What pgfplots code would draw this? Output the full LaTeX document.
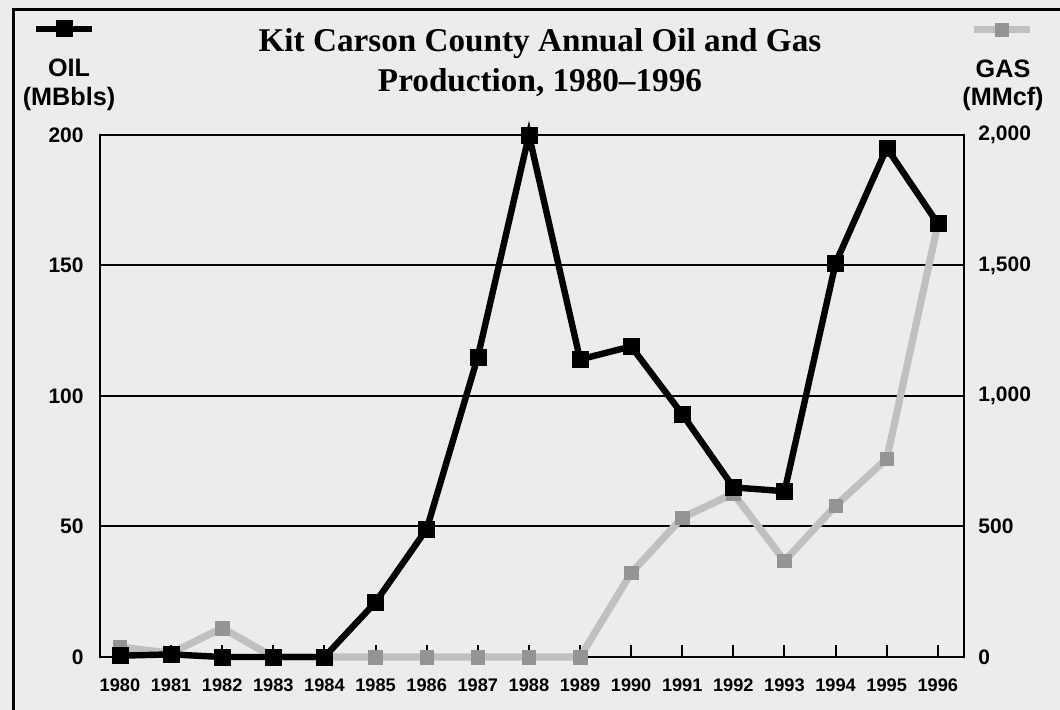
\documentclass[border=0pt]{standalone}
\usepackage{pgfplots}
\pgfplotsset{compat=1.18}
\usepackage{fontspec}
\setmainfont{Liberation Sans}
\newfontfamily\titlefont{Liberation Serif}
\definecolor{bg}{RGB}{236,236,236}
\definecolor{gasline}{RGB}{192,192,192}
\definecolor{gasmark}{RGB}{148,148,148}
\pgfplotsset{
  myaxis/.style={at={(50pt,-328.5pt)}, anchor=south west, scale only axis,
    width=432pt, height=261pt, xmin=1979.61, xmax=1996.51, clip=false,
    /pgf/number format/assume math mode=true},
  mylegend/.style={legend style={at={#1}, anchor=center, draw=none, fill=none,
    inner sep=0pt, nodes={inner sep=0pt}, column sep=0pt},
    legend image code/.code={\draw[mark repeat=2,mark phase=2,##1]
      plot coordinates {(0pt,0pt) (14pt,0pt) (28pt,0pt)};}}
}
\begin{document}
\begin{tikzpicture}
\path[use as bounding box] (0,0) rectangle (530pt,-355pt);
\fill[bg] (0,0) rectangle (530pt,-355pt);
\begin{scope}
\clip (0,0) rectangle (530pt,-355pt);
\draw[line width=1.5pt] (6.5pt,-5pt) rectangle (540pt,-365pt);
\end{scope}

% back axis: frame, grid, ticks, oil labels
\begin{axis}[myaxis, ymin=0, ymax=200, ytick={0,50,...,200},
  xtick={1980,...,1996}, ymajorgrids, grid style={black, line width=1pt},
  axis line style={line width=1pt},
  ytick style={draw=none}, xtick style={black, line width=1pt},
  tick align=inside, major tick length=6pt, xtick pos=bottom, ytick pos=left,
  /pgf/number format/1000 sep={},
  xticklabel style={font=\bfseries\fontsize{9.1}{10}\selectfont, anchor=center, yshift=-14pt},
  yticklabel style={font=\bfseries\fontsize{10.5}{12}\selectfont, anchor=east, inner sep=0pt, xshift=-8pt}]
\end{axis}

% gas axis
\begin{axis}[myaxis, ymin=0, ymax=2000, axis x line=none, axis y line*=right,
  ytick={0,500,...,2000}, ytick style={draw=none}, axis line style={line width=1pt},
  scaled y ticks=false, /pgf/number format/1000 sep={,},
  yticklabel style={font=\bfseries\fontsize{10.5}{12}\selectfont, anchor=west, inner sep=0pt, xshift=7pt},
  mylegend={(1.0451,1.2015)}]
\addplot[gasline, line width=3.6pt, mark=square*, mark size=3.4pt,
  mark options={fill=gasmark, draw=gasmark, line width=0.3pt}] coordinates {
  (1980,38) (1981,15) (1982,111) (1983,0) (1984,0) (1985,0) (1986,0) (1987,0)
  (1988,0) (1989,0) (1990,322) (1991,534) (1992,626) (1993,368) (1994,580)
  (1995,760) (1996,1660)};
\addlegendentry{}
\end{axis}

% oil axis
\begin{axis}[myaxis, ymin=0, ymax=200, hide axis, mylegend={(-0.0405,1.2035)}]
\addplot[black, line width=3.2pt, mark=square*, mark size=4pt,
  mark options={line width=0.3pt}] coordinates {
  (1980,0.5) (1981,1) (1982,0) (1983,0) (1984,0) (1985,21) (1986,49) (1987,115)
  (1988,200) (1989,114) (1990,119) (1991,93) (1992,65) (1993,63.5) (1994,151)
  (1995,195) (1996,166)};
\addlegendentry{}
\end{axis}

\node[anchor=base, font=\titlefont\bfseries\fontsize{16.6}{20}\selectfont] at (270pt,-26pt) {Kit Carson County Annual Oil and Gas};
\node[anchor=base, font=\titlefont\bfseries\fontsize{16.6}{20}\selectfont] at (270pt,-46pt) {Production, 1980–1996};
\node[anchor=base, font=\bfseries\fontsize{12.6}{15}\selectfont] at (34.5pt,-38.5pt) {OIL};
\node[anchor=base, font=\bfseries\fontsize{12.6}{15}\selectfont] at (34.5pt,-53pt) {(MBbls)};
\node[anchor=base, font=\bfseries\fontsize{12.6}{15}\selectfont] at (501.5pt,-39pt) {GAS};
\node[anchor=base, font=\bfseries\fontsize{12.6}{15}\selectfont] at (501.5pt,-53pt) {(MMcf)};
\end{tikzpicture}
\end{document}
